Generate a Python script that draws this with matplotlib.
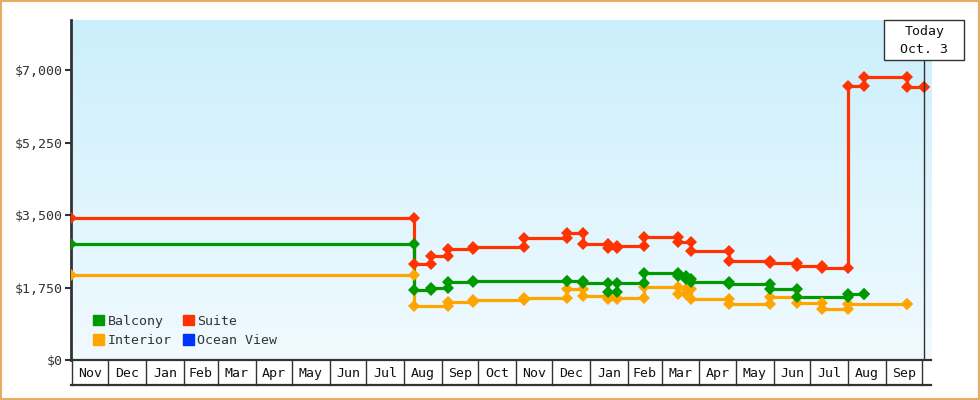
import matplotlib
matplotlib.use('Agg')
import matplotlib.pyplot as plt
import matplotlib.dates as mdates
import numpy as np
import pandas as pd
from matplotlib.patches import Rectangle, Patch
from matplotlib.transforms import blended_transform_factory

# price history per cabin type (date of change, price after change)
suite_dates = ['2016-10-31', '2017-08-09', '2017-08-23', '2017-09-06', '2017-09-27',
               '2017-11-08', '2017-12-13', '2017-12-26', '2018-01-16', '2018-01-23',
               '2018-02-14', '2018-03-14', '2018-03-25', '2018-04-25', '2018-05-29',
               '2018-06-20', '2018-07-11', '2018-08-01', '2018-08-14', '2018-09-19',
               '2018-10-03']
suite_prices = [3430, 2320, 2510, 2680, 2730,
                2950, 3070, 2800, 2710, 2760,
                2970, 2850, 2630, 2390, 2340,
                2270, 2220, 6620, 6840, 6600,
                6600]

balcony_dates = ['2016-10-31', '2017-08-09', '2017-08-23', '2017-09-06', '2017-09-27',
                 '2017-12-13', '2017-12-26', '2018-01-16', '2018-01-23', '2018-02-14',
                 '2018-03-14', '2018-03-21', '2018-03-25', '2018-04-25', '2018-05-29',
                 '2018-06-20', '2018-08-01', '2018-08-14']
balcony_prices = [2800, 1690, 1740, 1880, 1910,
                  1910, 1860, 1640, 1860, 2100,
                  2030, 1960, 1880, 1840, 1720,
                  1520, 1590, 1590]

interior_dates = ['2016-10-31', '2017-08-09', '2017-09-06', '2017-09-27', '2017-11-08',
                  '2017-12-13', '2017-12-26', '2018-01-16', '2018-01-23', '2018-02-14',
                  '2018-03-14', '2018-03-21', '2018-03-25', '2018-04-25', '2018-05-29',
                  '2018-06-20', '2018-07-11', '2018-08-01', '2018-09-19']
interior_prices = [2050, 1310, 1400, 1450, 1500,
                   1720, 1540, 1480, 1500, 1760,
                   1600, 1720, 1480, 1350, 1530,
                   1380, 1230, 1350, 1350]

month_labels = ['Nov', 'Dec', 'Jan', 'Feb', 'Mar', 'Apr', 'May', 'Jun', 'Jul', 'Aug', 'Sep', 'Oct',
                'Nov', 'Dec', 'Jan', 'Feb', 'Mar', 'Apr', 'May', 'Jun', 'Jul', 'Aug', 'Sep']
y_ticks = [0, 1750, 3500, 5250, 7000]
today = '2018-10-03'

FONT = 'DejaVu Sans Mono'
FS = 9.5
TXT = '#333333'
colors = {'Balcony': '#009900', 'Interior': '#ffa500', 'Suite': '#ff3300', 'Ocean View': '#0033ff'}

fig = plt.figure(figsize=(9.8, 4), dpi=100)
ax = fig.add_axes([71 / 980, 0.1, 860 / 980, 0.85])

x0 = mdates.datestr2num('2016-11-01')
ax.set_xlim(x0 - 0.8, x0 + 706.4)
ax.set_ylim(0, 8215)

# gradient background
grad = np.linspace(0, 1, 256).reshape(-1, 1)
top = np.array([203, 239, 252]) / 255
bot = np.array([241, 250, 255]) / 255
img = top + (bot - top) * grad[:, :, None]
ax.imshow(img, extent=[0, 1, 0, 1], transform=ax.transAxes, aspect='auto', zorder=0)


def draw_series(dates, prices, color):
    d = mdates.datestr2num(dates)
    ax.step(d, prices, where='post', color=color, lw=2.3, zorder=3)
    mx = [d[0]]
    my = [prices[0]]
    for i in range(1, len(d)):
        mx += [d[i], d[i]]
        my += [prices[i - 1], prices[i]]
    ax.plot(mx, my, 'D', color=color, ms=6.3, mew=0, zorder=4)


draw_series(suite_dates, suite_prices, colors['Suite'])
draw_series(interior_dates, interior_prices, colors['Interior'])
draw_series(balcony_dates, balcony_prices, colors['Balcony'])

# axes styling
for s in ['top', 'right', 'bottom']:
    ax.spines[s].set_visible(False)
ax.spines['left'].set_color(TXT)
ax.spines['left'].set_linewidth(2)
ax.set_yticks(y_ticks)
ax.set_yticklabels(['$' + format(v, ',') for v in y_ticks], fontfamily=FONT, fontsize=FS, color=TXT)
ax.tick_params(axis='y', length=4, width=1.5, color=TXT, pad=2)
ax.set_xticks([])

# month cells under the axis
tr = blended_transform_factory(ax.transData, ax.transAxes)
starts = mdates.date2num(pd.date_range('2016-11-01', '2018-10-01', freq='MS').to_pydatetime())
cell_h = 25 / 340
ax.plot([0, 1], [0, 0], transform=ax.transAxes, color=TXT, lw=1.6, clip_on=False, zorder=5)
ax.plot([0, 1], [-cell_h, -cell_h], transform=ax.transAxes, color=TXT, lw=1.6, clip_on=False, zorder=5)
for s in starts:
    ax.plot([s, s], [0, -cell_h], transform=tr, color=TXT, lw=1, clip_on=False, zorder=5)
for i, lab in enumerate(month_labels):
    ax.text((starts[i] + starts[i + 1]) / 2, -cell_h / 2 - 0.004, lab, transform=tr, ha='center',
            va='center', fontfamily=FONT, fontsize=FS, color='#111111', clip_on=False)

# today marker
t = mdates.datestr2num(today)
half = 40 / (860 / (706.4 + 0.8))
box_b = 300 / 340
ax.plot([t, t], [0, box_b], transform=tr, color=TXT, lw=1, zorder=6)
ax.add_patch(Rectangle((t - half, box_b), 2 * half, 1 - box_b, transform=tr, fc='white', ec=TXT,
                       lw=1, clip_on=False, zorder=7))
ax.text(t, 0.965, 'Today', transform=tr, ha='center', va='center', fontfamily=FONT, fontsize=FS,
        color='#111111', zorder=8, clip_on=False)
ax.text(t, 0.912, 'Oct. 3', transform=tr, ha='center', va='center', fontfamily=FONT, fontsize=FS,
        color='#111111', zorder=8, clip_on=False)

# legend
handles = [Patch(color=colors[k]) for k in ['Balcony', 'Interior', 'Suite', 'Ocean View']]
leg = ax.legend(handles, ['Balcony', 'Interior', 'Suite', 'Ocean View'], ncol=2, loc='lower left',
                bbox_to_anchor=(0.018, 0.018), frameon=False, handlelength=0.85, handleheight=0.85,
                handletextpad=0.25, columnspacing=0.85, labelspacing=0.5, borderpad=0,
                prop={'family': FONT, 'size': FS})
for txt in leg.get_texts():
    txt.set_color(TXT)

# orange frame around the figure
fig.patches.append(Rectangle((0.001, 0.0015), 0.998, 0.997, transform=fig.transFigure, fill=False,
                             ec='#e9aa66', lw=1.5))

fig.savefig('out.png', dpi=100)
